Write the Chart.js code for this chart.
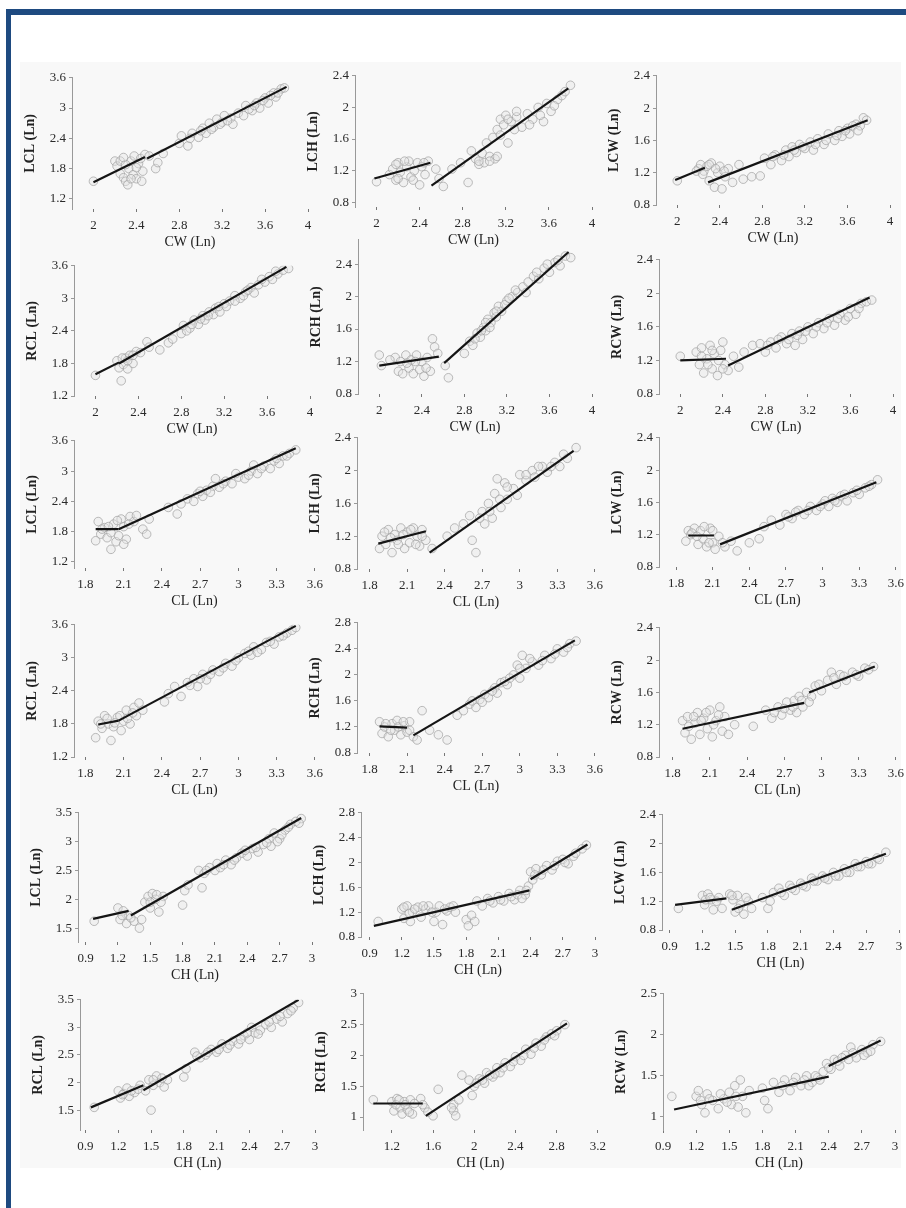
<!DOCTYPE html>
<html>
<head>
<meta charset="utf-8">
<script src="https://cdn.jsdelivr.net/npm/chart.js@4.4.1/dist/chart.umd.min.js"></script>
<style>
  body { margin: 0; width: 906px; height: 1208px; background: #fff; overflow: hidden; position: relative; }
  .frameL { position: absolute; left: 6px; top: 9px; width: 5px; height: 1199px; background: #1e4a80; }
  .frameT { position: absolute; left: 6px; top: 9px; width: 900px; height: 6px; background: #1e4a80; }
  .sheet { position: absolute; left: 20px; top: 62px; width: 881px; height: 1106px; background: #f8f8f8; }
  canvas { position: absolute; }
</style>
</head>
<body>
<div class="frameL"></div>
<div class="frameT"></div>
<div class="sheet"></div>

<script>
// tick labels
const xTicksCW = [2, 2.4, 2.8, 3.2, 3.6, 4];
const xTicksCL = [1.8, 2.1, 2.4, 2.7, 3, 3.3, 3.6];
const xTicksCH = [0.9, 1.2, 1.5, 1.8, 2.1, 2.4, 2.7, 3];
const xTicksCH2 = [1.2, 1.6, 2, 2.4, 2.8, 3.2];
const yTicksL = [1.2, 1.8, 2.4, 3, 3.6];
const yTicksH = [0.8, 1.2, 1.6, 2, 2.4];
const yTicksH2 = [0.8, 1.2, 1.6, 2, 2.4, 2.8];
const yTicksL5 = [1.5, 2, 2.5, 3, 3.5];
const yTicksR3 = [1, 1.5, 2, 2.5, 3];
const yTicksW5 = [1, 1.5, 2, 2.5];

// scatter points [x, y] and fitted segments [x1, y1, x2, y2]
const ptsLCL_CW = [[2.0,1.55],[2.2,1.95],[2.22,1.85],[2.25,1.7],[2.28,1.62],[2.3,1.55],[2.32,1.48],[2.33,1.8],[2.35,1.95],[2.37,1.68],[2.38,2.05],[2.4,1.6],[2.42,1.9],[2.44,2.0],[2.46,1.75],[2.48,2.08],[2.52,2.05],[2.58,1.8],[2.6,1.92],[2.65,2.1],[2.8,2.3],[2.82,2.45],[2.88,2.25],[2.92,2.5],[2.98,2.42],[3.02,2.6],[3.05,2.5],[3.08,2.7],[3.12,2.62],[3.15,2.78],[3.2,2.72],[3.22,2.85],[3.28,2.8],[3.3,2.68],[3.35,2.9],[3.4,2.85],[3.42,3.05],[3.48,2.95],[3.52,3.1],[3.55,3.0],[3.6,3.2],[3.63,3.1],[3.68,3.3],[3.7,3.22],[3.75,3.38],[3.72,3.3],
  [2.25,1.95],[2.3,1.88],[2.35,1.6],[2.4,1.82],[2.45,1.55],[2.28,2.02],[2.9,2.4],[3.0,2.55],[3.1,2.58],[3.18,2.68],[3.25,2.75],[3.45,2.98],[3.5,3.05],[3.58,3.15],[3.65,3.25],[3.78,3.4]];
const fitLCL_CW = [[2.0,1.53,2.48,2.03],[2.5,2.0,3.8,3.42]];

const ptsLCH_CW = [[2.0,1.06],[2.12,1.15],[2.15,1.22],[2.18,1.08],[2.2,1.3],[2.22,1.18],[2.25,1.05],[2.28,1.25],[2.3,1.32],[2.32,1.12],[2.35,1.2],[2.38,1.3],[2.4,1.02],[2.42,1.25],[2.45,1.15],[2.48,1.32],[2.55,1.22],[2.58,1.1],[2.62,1.0],[2.7,1.22],[2.78,1.3],[2.85,1.05],[2.88,1.45],[2.92,1.35],[2.95,1.28],[2.98,1.42],[3.0,1.3],[3.02,1.55],[3.05,1.38],[3.08,1.62],[3.1,1.35],[3.12,1.72],[3.15,1.85],[3.18,1.78],[3.2,1.9],[3.22,1.55],[3.25,1.82],[3.3,1.88],[3.35,1.75],[3.4,1.92],[3.45,1.85],[3.5,2.0],[3.55,1.82],[3.58,2.05],[3.62,1.95],[3.68,2.1],[3.72,2.15],[3.8,2.28],
  [2.18,1.28],[2.26,1.32],[2.34,1.08],[2.44,1.3],[2.2,1.1],[2.95,1.32],[3.05,1.32],[3.12,1.38],[3.15,1.65],[3.22,1.85],[3.28,1.72],[3.42,1.78],[3.52,1.9],[3.65,2.02],[3.75,2.2],[3.3,1.95]];
const fitLCH_CW = [[1.98,1.1,2.5,1.3],[2.51,1.01,3.78,2.24]];

const ptsLCW_CW = [[2.0,1.1],[2.2,1.25],[2.22,1.3],[2.25,1.22],[2.28,1.28],[2.3,1.1],[2.32,1.32],[2.35,1.02],[2.38,1.2],[2.4,1.28],[2.42,1.0],[2.45,1.15],[2.48,1.25],[2.52,1.08],[2.58,1.3],[2.62,1.12],[2.7,1.15],[2.78,1.16],[2.82,1.38],[2.88,1.3],[2.92,1.42],[2.98,1.35],[3.02,1.48],[3.05,1.4],[3.08,1.52],[3.12,1.45],[3.15,1.55],[3.2,1.5],[3.25,1.58],[3.28,1.48],[3.32,1.62],[3.38,1.55],[3.42,1.68],[3.48,1.6],[3.52,1.72],[3.55,1.65],[3.6,1.75],[3.62,1.68],[3.68,1.8],[3.72,1.78],[3.75,1.88],[3.78,1.85],
  [2.18,1.22],[2.24,1.18],[2.3,1.3],[2.36,1.25],[2.44,1.22],[2.9,1.4],[3.0,1.42],[3.1,1.48],[3.18,1.52],[3.3,1.55],[3.4,1.6],[3.5,1.66],[3.58,1.72],[3.65,1.78],[3.7,1.72]];
const fitLCW_CW = [[1.98,1.11,2.26,1.26],[2.29,1.08,3.79,1.85]];

const ptsRCL_CW = [[2.0,1.58],[2.2,1.85],[2.22,1.72],[2.24,1.48],[2.26,1.78],[2.28,1.9],[2.3,1.7],[2.32,1.95],[2.35,1.8],[2.38,2.02],[2.42,2.0],[2.48,2.2],[2.5,2.1],[2.6,2.05],[2.68,2.18],[2.72,2.25],[2.8,2.35],[2.82,2.5],[2.88,2.45],[2.92,2.6],[2.96,2.52],[3.0,2.68],[3.02,2.6],[3.06,2.75],[3.1,2.7],[3.12,2.82],[3.16,2.75],[3.2,2.9],[3.25,2.95],[3.3,3.05],[3.35,3.0],[3.4,3.12],[3.45,3.2],[3.48,3.1],[3.52,3.25],[3.58,3.3],[3.62,3.4],[3.65,3.35],[3.7,3.45],[3.75,3.52],[3.8,3.55],
  [2.25,1.9],[2.3,1.85],[2.35,1.95],[2.85,2.4],[2.9,2.52],[2.98,2.62],[3.05,2.68],[3.15,2.85],[3.22,2.85],[3.3,2.95],[3.38,3.05],[3.42,3.15],[3.55,3.35],[3.68,3.5]];
const fitRCL_CW = [[2.0,1.6,2.22,1.82],[2.22,1.8,3.78,3.58]];

const ptsRCH_CW = [[2.0,1.28],[2.02,1.15],[2.15,1.25],[2.18,1.08],[2.2,1.2],[2.22,1.05],[2.25,1.28],[2.28,1.12],[2.3,1.22],[2.32,1.05],[2.35,1.28],[2.38,1.1],[2.4,1.2],[2.42,1.02],[2.45,1.25],[2.48,1.08],[2.5,1.48],[2.52,1.38],[2.55,1.3],[2.62,1.15],[2.65,1.0],[2.8,1.3],[2.85,1.45],[2.88,1.4],[2.92,1.55],[2.95,1.5],[2.98,1.62],[3.0,1.58],[3.02,1.72],[3.05,1.68],[3.08,1.8],[3.1,1.75],[3.12,1.88],[3.15,1.82],[3.2,1.95],[3.25,2.0],[3.3,2.05],[3.35,2.12],[3.4,2.18],[3.45,2.25],[3.5,2.22],[3.55,2.35],[3.6,2.3],[3.65,2.42],[3.7,2.38],[3.75,2.5],[3.8,2.48],
  [2.1,1.22],[2.26,1.18],[2.34,1.2],[2.44,1.12],[2.9,1.48],[2.96,1.58],[3.0,1.68],[3.04,1.62],[3.1,1.82],[3.18,1.9],[3.22,1.98],[3.28,2.08],[3.38,2.05],[3.48,2.3],[3.58,2.4],[3.68,2.45]];
const fitRCH_CW = [[2.0,1.15,2.56,1.26],[2.61,1.18,3.78,2.55]];

const ptsRCW_CW = [[2.0,1.25],[2.15,1.3],[2.18,1.15],[2.2,1.35],[2.22,1.05],[2.25,1.22],[2.28,1.38],[2.3,1.1],[2.32,1.28],[2.35,1.02],[2.38,1.32],[2.4,1.42],[2.42,1.15],[2.45,1.08],[2.5,1.25],[2.55,1.12],[2.6,1.3],[2.68,1.38],[2.75,1.4],[2.8,1.3],[2.85,1.42],[2.9,1.35],[2.95,1.48],[3.0,1.4],[3.05,1.52],[3.08,1.38],[3.12,1.55],[3.15,1.45],[3.2,1.6],[3.25,1.52],[3.3,1.65],[3.35,1.58],[3.4,1.7],[3.45,1.62],[3.5,1.75],[3.55,1.68],[3.6,1.82],[3.65,1.75],[3.7,1.88],[3.75,1.9],[3.8,1.92],
  [2.2,1.25],[2.26,1.15],[2.3,1.32],[2.36,1.2],[2.4,1.1],[2.82,1.38],[2.92,1.45],[3.02,1.45],[3.1,1.5],[3.18,1.55],[3.28,1.6],[3.38,1.65],[3.48,1.7],[3.58,1.72],[3.68,1.82]];
const fitRCW_CW = [[2.0,1.2,2.43,1.22],[2.45,1.14,3.78,1.95]];

const ptsLCL_CL = [[1.88,1.62],[1.9,2.0],[1.92,1.75],[1.95,1.88],[1.97,1.68],[2.0,1.45],[2.02,1.95],[2.04,1.6],[2.06,1.72],[2.08,2.05],[2.1,1.9],[2.12,1.65],[2.15,2.1],[2.18,2.0],[2.2,2.12],[2.25,1.85],[2.28,1.75],[2.3,2.05],[2.45,2.28],[2.52,2.15],[2.55,2.35],[2.6,2.45],[2.65,2.4],[2.68,2.55],[2.72,2.5],[2.75,2.62],[2.8,2.7],[2.82,2.85],[2.85,2.68],[2.9,2.8],[2.95,2.75],[3.0,2.88],[3.05,2.85],[3.1,3.0],[3.12,3.12],[3.15,2.95],[3.2,3.1],[3.25,3.05],[3.28,3.2],[3.32,3.15],[3.35,3.3],[3.4,3.35],[3.45,3.42],
  [1.93,1.85],[1.98,1.9],[2.0,1.78],[2.05,2.02],[2.1,1.55],[2.14,1.95],[2.7,2.6],[2.78,2.58],[2.88,2.75],[2.98,2.95],[3.08,2.92],[3.18,3.05],[3.3,3.25],[3.38,3.3]];
const fitLCL_CL = [[1.88,1.85,2.06,1.85],[2.06,1.85,3.45,3.45]];

const ptsLCH_CL = [[1.88,1.05],[1.9,1.2],[1.93,1.1],[1.95,1.28],[1.98,1.0],[2.0,1.22],[2.02,1.15],[2.05,1.3],[2.08,1.05],[2.1,1.25],[2.12,1.12],[2.15,1.3],[2.18,1.2],[2.2,1.08],[2.22,1.28],[2.25,1.15],[2.3,1.05],[2.42,1.2],[2.48,1.3],[2.55,1.35],[2.6,1.45],[2.62,1.15],[2.65,1.0],[2.7,1.5],[2.72,1.35],[2.75,1.6],[2.78,1.42],[2.8,1.72],[2.82,1.9],[2.85,1.55],[2.88,1.85],[2.9,1.65],[2.95,1.78],[3.0,1.95],[3.05,1.88],[3.1,2.0],[3.12,1.92],[3.18,2.05],[3.22,1.98],[3.28,2.1],[3.32,2.05],[3.38,2.15],[3.45,2.28],
  [1.92,1.25],[1.97,1.18],[2.03,1.1],[2.07,1.22],[2.13,1.28],[2.17,1.1],[2.22,1.2],[2.68,1.42],[2.76,1.5],[2.84,1.65],[2.9,1.8],[2.98,1.7],[3.05,1.95],[3.15,2.05],[3.25,2.05],[3.35,2.2]];
const fitLCH_CL = [[1.87,1.11,2.25,1.26],[2.28,1.0,3.43,2.24]];

const ptsLCW_CL = [[1.88,1.12],[1.9,1.25],[1.92,1.2],[1.95,1.28],[1.98,1.08],[2.0,1.25],[2.02,1.15],[2.05,1.05],[2.08,1.28],[2.1,1.1],[2.12,1.02],[2.15,1.18],[2.2,1.05],[2.25,1.12],[2.3,1.0],[2.4,1.1],[2.48,1.15],[2.52,1.3],[2.58,1.38],[2.65,1.32],[2.7,1.45],[2.75,1.4],[2.8,1.5],[2.85,1.45],[2.9,1.55],[2.95,1.5],[3.0,1.58],[3.05,1.55],[3.08,1.65],[3.12,1.6],[3.15,1.68],[3.2,1.62],[3.25,1.72],[3.3,1.7],[3.35,1.78],[3.4,1.82],[3.45,1.88],
  [1.93,1.22],[1.97,1.18],[2.03,1.3],[2.07,1.1],[2.1,1.25],[2.18,1.1],[2.72,1.42],[2.78,1.48],[2.88,1.5],[2.98,1.55],[3.02,1.62],[3.1,1.62],[3.18,1.7],[3.28,1.75],[3.38,1.8]];
const fitLCW_CL = [[1.9,1.19,2.11,1.19],[2.16,1.08,3.44,1.85]];

const ptsRCL_CL = [[1.88,1.55],[1.9,1.85],[1.93,1.72],[1.95,1.95],[1.98,1.8],[2.0,1.5],[2.02,1.75],[2.05,1.92],[2.08,1.68],[2.1,1.85],[2.12,2.05],[2.15,1.8],[2.18,2.1],[2.2,1.95],[2.22,2.18],[2.25,2.05],[2.42,2.2],[2.45,2.35],[2.5,2.48],[2.55,2.3],[2.6,2.55],[2.65,2.62],[2.68,2.48],[2.72,2.7],[2.75,2.6],[2.8,2.78],[2.85,2.75],[2.9,2.9],[2.95,2.85],[3.0,3.0],[3.05,3.08],[3.1,3.05],[3.12,3.2],[3.18,3.15],[3.22,3.28],[3.28,3.25],[3.32,3.38],[3.38,3.45],[3.42,3.5],[3.45,3.55],
  [1.92,1.8],[1.97,1.9],[2.03,1.82],[2.07,1.95],[2.13,1.9],[2.17,2.0],[2.62,2.5],[2.7,2.62],[2.78,2.7],[2.88,2.82],[2.98,2.95],[3.08,3.12],[3.15,3.1],[3.25,3.3],[3.35,3.4]];
const fitRCL_CL = [[1.9,1.79,2.06,1.86],[2.06,1.86,3.45,3.58]];

const ptsRCH_CL = [[1.88,1.28],[1.9,1.1],[1.92,1.2],[1.95,1.05],[1.98,1.25],[2.0,1.15],[2.02,1.3],[2.05,1.08],[2.08,1.22],[2.1,1.12],[2.12,1.28],[2.15,1.05],[2.18,1.0],[2.22,1.45],[2.28,1.15],[2.35,1.08],[2.42,1.0],[2.5,1.38],[2.55,1.45],[2.6,1.55],[2.65,1.5],[2.68,1.62],[2.72,1.7],[2.75,1.65],[2.8,1.8],[2.82,1.72],[2.85,1.88],[2.9,1.85],[2.95,2.0],[2.98,2.15],[3.0,1.95],[3.02,2.3],[3.05,2.1],[3.1,2.2],[3.15,2.15],[3.2,2.3],[3.25,2.25],[3.3,2.4],[3.35,2.35],[3.4,2.48],[3.45,2.52],
  [1.93,1.25],[1.97,1.15],[2.03,1.2],[2.07,1.28],[2.12,1.15],[2.62,1.6],[2.7,1.58],[2.78,1.75],[2.88,1.9],[2.92,1.95],[3.0,2.1],[3.08,2.25],[3.18,2.22],[3.28,2.32],[3.38,2.42]];
const fitRCH_CL = [[1.88,1.21,2.1,1.19],[2.15,1.07,3.44,2.53]];

const ptsRCW_CL = [[1.88,1.25],[1.9,1.1],[1.92,1.3],[1.95,1.02],[1.98,1.22],[2.0,1.35],[2.02,1.08],[2.05,1.28],[2.08,1.15],[2.1,1.38],[2.12,1.05],[2.15,1.25],[2.18,1.42],[2.2,1.12],[2.22,1.3],[2.25,1.08],[2.3,1.2],[2.45,1.18],[2.55,1.38],[2.6,1.28],[2.65,1.42],[2.68,1.32],[2.72,1.48],[2.75,1.38],[2.78,1.5],[2.8,1.35],[2.82,1.55],[2.85,1.42],[2.88,1.6],[2.92,1.55],[2.95,1.68],[3.0,1.62],[3.05,1.75],[3.08,1.85],[3.12,1.7],[3.15,1.82],[3.2,1.75],[3.25,1.85],[3.3,1.8],[3.35,1.9],[3.42,1.92],
  [1.93,1.18],[1.97,1.3],[2.03,1.25],[2.07,1.35],[2.13,1.2],[2.17,1.32],[2.62,1.35],[2.7,1.4],[2.77,1.42],[2.84,1.5],[2.9,1.48],[2.98,1.7],[3.1,1.78],[3.18,1.8],[3.28,1.82],[3.38,1.88]];
const fitRCW_CL = [[1.88,1.15,2.86,1.47],[2.9,1.6,3.43,1.92]];

const ptsLCL_CH = [[0.98,1.62],[1.2,1.85],[1.22,1.65],[1.25,1.8],[1.28,1.58],[1.3,1.72],[1.35,1.62],[1.4,1.5],[1.42,1.65],[1.45,1.95],[1.48,2.05],[1.5,1.85],[1.52,2.1],[1.55,2.0],[1.58,1.78],[1.62,2.05],[1.8,1.9],[1.82,2.15],[1.85,2.25],[1.95,2.5],[1.98,2.2],[2.0,2.45],[2.05,2.55],[2.1,2.5],[2.12,2.62],[2.15,2.55],[2.2,2.68],[2.25,2.6],[2.3,2.72],[2.35,2.8],[2.4,2.75],[2.45,2.88],[2.5,2.82],[2.55,2.95],[2.6,3.05],[2.62,2.92],[2.65,3.15],[2.7,3.05],[2.75,3.2],[2.8,3.3],[2.85,3.35],[2.9,3.4],
  [1.24,1.72],[1.32,1.68],[1.5,1.95],[1.56,2.08],[1.6,1.95],[2.02,2.5],[2.18,2.6],[2.28,2.68],[2.38,2.85],[2.48,2.9],[2.58,2.98],[2.68,3.0],[2.72,3.12],[2.78,3.25],[2.88,3.32]];
const fitLCL_CH = [[0.97,1.66,1.3,1.8],[1.32,1.72,2.9,3.41]];

const ptsLCH_CH = [[0.98,1.05],[1.2,1.25],[1.22,1.1],[1.25,1.3],[1.28,1.05],[1.3,1.2],[1.35,1.28],[1.38,1.12],[1.42,1.25],[1.45,1.3],[1.5,1.05],[1.52,1.2],[1.55,1.3],[1.58,1.0],[1.62,1.22],[1.65,1.28],[1.7,1.2],[1.8,1.08],[1.82,0.98],[1.85,1.15],[1.88,1.05],[1.9,1.38],[1.95,1.3],[2.0,1.42],[2.05,1.35],[2.1,1.45],[2.15,1.38],[2.2,1.5],[2.25,1.4],[2.3,1.55],[2.35,1.48],[2.38,1.62],[2.4,1.85],[2.42,1.72],[2.45,1.9],[2.5,1.8],[2.55,1.95],[2.6,1.88],[2.65,2.02],[2.7,2.05],[2.75,1.98],[2.8,2.1],[2.88,2.22],[2.92,2.28],
  [1.22,1.28],[1.27,1.18],[1.32,1.25],[1.4,1.3],[1.48,1.2],[1.6,1.25],[1.68,1.3],[2.02,1.38],[2.12,1.4],[2.22,1.45],[2.28,1.48],[2.32,1.42],[2.36,1.55],[2.44,1.8],[2.52,1.88],[2.62,1.95],[2.72,2.0],[2.82,2.15]];
const fitLCH_CH = [[0.94,0.98,2.39,1.55],[2.4,1.73,2.93,2.29]];

const ptsLCW_CH = [[0.98,1.1],[1.2,1.28],[1.22,1.15],[1.25,1.3],[1.28,1.22],[1.3,1.08],[1.35,1.25],[1.38,1.1],[1.45,1.3],[1.48,1.22],[1.5,1.05],[1.52,1.28],[1.55,1.15],[1.58,1.02],[1.62,1.2],[1.65,1.1],[1.75,1.25],[1.8,1.1],[1.82,1.2],[1.85,1.32],[1.9,1.38],[1.95,1.28],[2.0,1.42],[2.05,1.35],[2.1,1.45],[2.15,1.4],[2.2,1.52],[2.25,1.48],[2.3,1.55],[2.35,1.5],[2.4,1.6],[2.45,1.55],[2.5,1.65],[2.55,1.6],[2.6,1.72],[2.65,1.68],[2.7,1.75],[2.75,1.72],[2.8,1.8],[2.88,1.88],
  [1.23,1.22],[1.27,1.25],[1.33,1.2],[1.47,1.28],[1.53,1.1],[1.6,1.25],[1.92,1.32],[2.02,1.38],[2.12,1.42],[2.22,1.48],[2.32,1.52],[2.42,1.55],[2.52,1.6],[2.62,1.68],[2.72,1.72],[2.82,1.78]];
const fitLCW_CH = [[0.95,1.15,1.42,1.24],[1.47,1.08,2.88,1.86]];

const ptsRCL_CH = [[0.98,1.55],[1.2,1.85],[1.22,1.72],[1.25,1.8],[1.28,1.9],[1.3,1.75],[1.35,1.82],[1.4,1.95],[1.45,1.85],[1.48,2.05],[1.5,1.5],[1.52,1.95],[1.55,2.12],[1.58,2.0],[1.62,1.92],[1.65,2.05],[1.8,2.1],[1.82,2.25],[1.9,2.55],[1.95,2.45],[2.0,2.5],[2.05,2.6],[2.1,2.55],[2.15,2.7],[2.2,2.62],[2.25,2.75],[2.3,2.7],[2.35,2.85],[2.4,2.78],[2.42,3.0],[2.45,2.9],[2.5,2.95],[2.55,3.05],[2.6,3.0],[2.65,3.15],[2.7,3.1],[2.75,3.25],[2.8,3.35],[2.85,3.45],
  [1.24,1.78],[1.32,1.85],[1.38,1.88],[1.52,2.05],[1.6,2.08],[1.92,2.48],[2.02,2.55],[2.12,2.6],[2.22,2.68],[2.32,2.78],[2.38,2.9],[2.48,2.88],[2.58,3.1],[2.68,3.2],[2.78,3.3]];
const fitRCL_CH = [[0.95,1.55,1.43,1.95],[1.43,1.86,2.85,3.5]];

const ptsRCH_CH = [[1.02,1.28],[1.2,1.25],[1.22,1.1],[1.25,1.3],[1.28,1.15],[1.3,1.05],[1.32,1.25],[1.35,1.12],[1.38,1.28],[1.4,1.05],[1.48,1.3],[1.52,1.15],[1.55,1.08],[1.6,1.02],[1.65,1.45],[1.8,1.2],[1.8,1.1],[1.82,1.02],[1.85,1.28],[1.88,1.68],[1.95,1.6],[1.98,1.35],[2.0,1.5],[2.05,1.62],[2.1,1.55],[2.12,1.72],[2.18,1.65],[2.22,1.8],[2.25,1.72],[2.3,1.88],[2.35,1.82],[2.4,1.98],[2.45,1.92],[2.5,2.1],[2.55,2.02],[2.6,2.2],[2.65,2.15],[2.7,2.3],[2.75,2.35],[2.8,2.4],[2.88,2.5],
  [1.24,1.2],[1.27,1.28],[1.33,1.2],[1.37,1.08],[1.42,1.22],[1.5,1.2],[1.78,1.15],[2.02,1.55],[2.08,1.6],[2.15,1.68],[2.2,1.7],[2.28,1.8],[2.38,1.9],[2.48,2.0],[2.58,2.12],[2.68,2.25],[2.78,2.32]];
const fitRCH_CH = [[1.02,1.22,1.5,1.22],[1.53,1.02,2.9,2.52]];

const ptsRCW_CH = [[0.98,1.25],[1.2,1.25],[1.22,1.32],[1.25,1.15],[1.28,1.05],[1.3,1.28],[1.35,1.2],[1.4,1.1],[1.45,1.22],[1.5,1.3],[1.52,1.15],[1.55,1.38],[1.58,1.12],[1.6,1.45],[1.62,1.25],[1.65,1.05],[1.68,1.32],[1.8,1.35],[1.82,1.2],[1.85,1.1],[1.9,1.42],[1.95,1.3],[2.0,1.45],[2.05,1.32],[2.1,1.48],[2.15,1.38],[2.2,1.5],[2.25,1.42],[2.3,1.48],[2.35,1.55],[2.38,1.65],[2.42,1.58],[2.45,1.7],[2.5,1.62],[2.55,1.75],[2.6,1.85],[2.65,1.72],[2.7,1.82],[2.75,1.78],[2.8,1.88],[2.87,1.92],
  [1.24,1.2],[1.32,1.22],[1.42,1.28],[1.48,1.18],[1.56,1.25],[1.98,1.38],[2.08,1.42],[2.18,1.45],[2.22,1.38],[2.28,1.5],[2.32,1.45],[2.4,1.6],[2.48,1.68],[2.52,1.72],[2.58,1.7],[2.62,1.78],[2.72,1.75],[2.78,1.8]];
const fitRCW_CH = [[1.0,1.09,2.4,1.49],[2.4,1.62,2.87,1.93]];

// panels: [points, fits, x title, y title, x ticks, y ticks, x range, y range]
const panels = [
  [ptsLCL_CW, fitLCL_CW, 'CW (Ln)', 'LCL (Ln)', xTicksCW, yTicksL, [1.8, 4], [1.0, 3.6]],
  [ptsLCH_CW, fitLCH_CW, 'CW (Ln)', 'LCH (Ln)', xTicksCW, yTicksH, [1.8, 4], [0.74, 2.4]],
  [ptsLCW_CW, fitLCW_CW, 'CW (Ln)', 'LCW (Ln)', xTicksCW, yTicksH, [1.8, 4], [0.8, 2.4]],
  [ptsRCL_CW, fitRCL_CW, 'CW (Ln)', 'RCL (Ln)', xTicksCW, yTicksL, [1.8, 4], [1.2, 3.6]],
  [ptsRCH_CW, fitRCH_CW, 'CW (Ln)', 'RCH (Ln)', xTicksCW, yTicksH, [1.8, 4], [0.8, 2.7]],
  [ptsRCW_CW, fitRCW_CW, 'CW (Ln)', 'RCW (Ln)', xTicksCW, yTicksH, [1.8, 4], [0.8, 2.4]],
  [ptsLCL_CL, fitLCL_CL, 'CL (Ln)', 'LCL (Ln)', xTicksCL, yTicksL, [1.71, 3.6], [1.08, 3.6]],
  [ptsLCH_CL, fitLCH_CL, 'CL (Ln)', 'LCH (Ln)', xTicksCL, yTicksH, [1.7, 3.6], [0.8, 2.4]],
  [ptsLCW_CL, fitLCW_CL, 'CL (Ln)', 'LCW (Ln)', xTicksCL, yTicksH, [1.66, 3.6], [0.8, 2.4]],
  [ptsRCL_CL, fitRCL_CL, 'CL (Ln)', 'RCL (Ln)', xTicksCL, yTicksL, [1.71, 3.6], [1.2, 3.6]],
  [ptsRCH_CL, fitRCH_CL, 'CL (Ln)', 'RCH (Ln)', xTicksCL, yTicksH2, [1.7, 3.6], [0.8, 2.8]],
  [ptsRCW_CL, fitRCW_CL, 'CL (Ln)', 'RCW (Ln)', xTicksCL, yTicksH, [1.69, 3.6], [0.8, 2.4]],
  [ptsLCL_CH, fitLCL_CH, 'CH (Ln)', 'LCL (Ln)', xTicksCH, yTicksL5, [0.83, 3], [1.26, 3.5]],
  [ptsLCH_CH, fitLCH_CH, 'CH (Ln)', 'LCH (Ln)', xTicksCH, yTicksH2, [0.82, 3], [0.8, 2.8]],
  [ptsLCW_CH, fitLCW_CH, 'CH (Ln)', 'LCW (Ln)', xTicksCH, yTicksH, [0.83, 3], [0.8, 2.4]],
  [ptsRCL_CH, fitRCL_CH, 'CH (Ln)', 'RCL (Ln)', xTicksCH, yTicksL5, [0.85, 3], [1.14, 3.5]],
  [ptsRCH_CH, fitRCH_CH, 'CH (Ln)', 'RCH (Ln)', xTicksCH2, yTicksR3, [0.92, 3.2], [0.79, 3]],
  [ptsRCW_CH, fitRCW_CH, 'CH (Ln)', 'RCW (Ln)', xTicksCH, yTicksW5, [0.9, 3], [0.84, 2.5]]
];

// plot area of each panel on the page (left, right, top, bottom)
const boxes = [
  [72, 308, 77, 209], [355, 592, 75, 207], [656, 890, 75, 205],
  [74, 310, 265, 396], [358, 592, 239, 394], [659, 893, 259, 394],
  [74, 315, 440, 568], [357, 595, 437, 569], [659, 896, 437, 567],
  [74, 315, 624, 757], [357, 595, 622, 753], [659, 896, 627, 757],
  [78, 312, 812, 942], [361, 595, 812, 937], [662, 899, 814, 930],
  [80, 315, 999, 1130], [363, 598, 993, 1130], [663, 895, 993, 1130]
];

const Y_W = 52, X_H = 45, PAD_T = 10, PAD_R = 14;
const serif = "'Liberation Serif', 'DejaVu Serif', serif";
const fmt = v => String(+(+v).toFixed(2));

function makePanel(p, box) {
  const [pts, fits, xTitle, yTitle, xTicks, yTicks, xr, yr] = p;
  const [l, r, t, b] = box;
  const c = document.createElement('canvas');
  const w = (r - l) + Y_W + PAD_R;
  const h = (b - t) + PAD_T + X_H;
  c.width = w; c.height = h;
  c.style.left = (l - Y_W) + 'px';
  c.style.top = (t - PAD_T) + 'px';
  c.style.width = w + 'px';
  c.style.height = h + 'px';
  document.body.appendChild(c);

  const datasets = fits.map(f => ({
    type: 'line',
    data: [{ x: f[0], y: f[1] }, { x: f[2], y: f[3] }],
    borderColor: '#151515',
    borderWidth: 2.2,
    pointRadius: 0,
    showLine: true,
    order: 0
  }));
  datasets.push({
    type: 'scatter',
    data: pts.map(q => ({ x: q[0], y: q[1] })),
    pointStyle: 'circle',
    pointRadius: 4.3,
    borderWidth: 1,
    borderColor: 'rgba(160,160,160,0.7)',
    backgroundColor: 'rgba(228,228,228,0.4)',
    order: 1
  });

  new Chart(c.getContext('2d'), {
    type: 'scatter',
    data: { datasets: datasets },
    options: {
      responsive: false,
      animation: false,
      layout: { padding: { top: PAD_T, right: PAD_R, left: 0, bottom: 0 } },
      plugins: { legend: { display: false }, tooltip: { enabled: false } },
      scales: {
        x: {
          type: 'linear', min: xr[0], max: xr[1],
          afterBuildTicks: ax => { ax.ticks = xTicks.map(v => ({ value: v })); },
          afterFit: ax => { ax.height = X_H; },
          border: { display: false },
          grid: { drawOnChartArea: false, drawTicks: true, tickLength: 3, color: '#777' },
          ticks: { callback: fmt, autoSkip: false, maxRotation: 0, padding: 6, color: '#2a2a2a', font: { family: serif, size: 13 } },
          title: { display: true, text: xTitle, color: '#222', padding: { top: 0, bottom: 3 }, font: { family: serif, size: 14 } }
        },
        y: {
          type: 'linear', min: yr[0], max: yr[1],
          afterBuildTicks: ax => { ax.ticks = yTicks.map(v => ({ value: v })); },
          afterFit: ax => { ax.width = Y_W; },
          border: { display: true, color: '#999', width: 1 },
          grid: { drawOnChartArea: false, drawTicks: true, tickLength: 3, color: '#999' },
          ticks: { callback: fmt, autoSkip: false, padding: 3, color: '#2a2a2a', font: { family: serif, size: 13 } },
          title: { display: true, text: yTitle, color: '#222', padding: { top: 2, bottom: 0 }, font: { family: serif, size: 14, weight: 'bold' } }
        }
      }
    }
  });
}

panels.forEach((p, i) => makePanel(p, boxes[i]));
</script>
</body>
</html>
